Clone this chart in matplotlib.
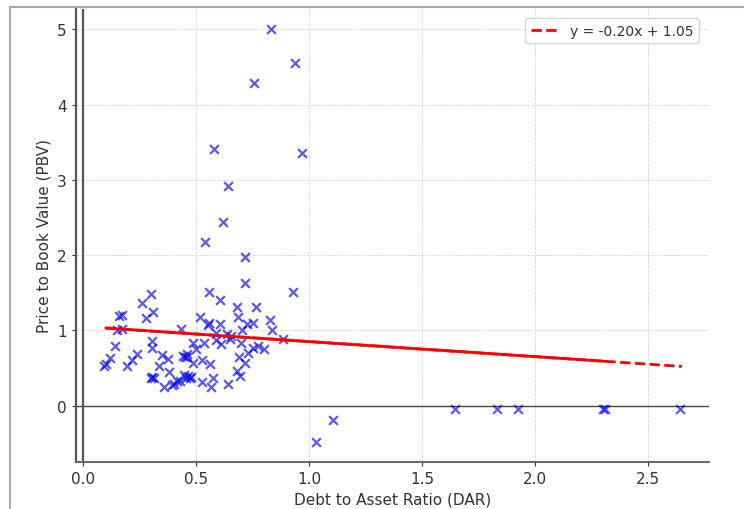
import matplotlib
matplotlib.use("Agg")
import matplotlib.pyplot as plt
import numpy as np
from matplotlib.lines import Line2D

dar = [0.09, 0.10, 0.117, 0.139, 0.150, 0.158, 0.169, 0.170, 0.192, 0.215,
       0.238, 0.258, 0.275, 0.297, 0.306, 0.302, 0.305, 0.297, 0.305, 0.312,
       0.336, 0.346, 0.356, 0.375, 0.378, 0.39, 0.40, 0.415, 0.427, 0.432,
       0.44, 0.45, 0.457, 0.46, 0.447, 0.455, 0.462, 0.471, 0.478, 0.483,
       0.486, 0.50, 0.515, 0.523, 0.523, 0.533, 0.538, 0.552, 0.558, 0.557,
       0.56, 0.564, 0.574, 0.577, 0.586, 0.586, 0.604, 0.604, 0.611, 0.618,
       0.634, 0.64, 0.641, 0.648, 0.655, 0.678, 0.685, 0.678, 0.689, 0.692,
       0.696, 0.703, 0.715, 0.715, 0.715, 0.722, 0.729, 0.749, 0.751, 0.755,
       0.766, 0.773, 0.80, 0.828, 0.833, 0.83, 0.884, 0.928, 0.935, 0.967,
       1.03, 1.104, 1.647, 1.833, 1.923, 2.30, 2.31, 2.643]
pbv = [0.53, 0.55, 0.63, 0.79, 1.01, 1.19, 1.20, 1.02, 0.52, 0.60,
       0.69, 1.36, 1.17, 1.48, 1.24, 0.86, 0.76, 0.36, 0.38, 0.37,
       0.53, 0.67, 0.25, 0.62, 0.44, 0.27, 0.29, 0.32, 0.33, 1.02,
       0.66, 0.65, 0.64, 0.68, 0.40, 0.37, 0.39, 0.36, 0.38, 0.83,
       0.56, 0.75, 1.18, 0.31, 0.60, 0.83, 2.17, 1.07, 1.10, 1.51,
       0.55, 0.25, 0.36, 3.41, 0.96, 0.87, 1.40, 1.09, 0.82, 2.44,
       0.95, 2.92, 0.29, 0.89, 0.92, 1.31, 1.18, 0.46, 0.65, 0.39,
       0.83, 1.01, 0.56, 1.97, 1.63, 1.08, 0.70, 1.10, 0.77, 4.28,
       1.31, 0.79, 0.75, 1.14, 1.00, 5.00, 0.89, 1.51, 4.55, 3.35,
       -0.48, -0.19, -0.05, -0.05, -0.05, -0.05, -0.05, -0.05]

slope = -0.20
intercept = 1.05
fit_label = "y = -0.20x + 1.05"
solid_range = [0.10, 2.31]
dashed_range = [0.10, 2.65]

xticks = [0.0, 0.5, 1.0, 1.5, 2.0, 2.5]
yticks = [0, 1, 2, 3, 4, 5]

fig = plt.figure(figsize=(7.44, 5.10), dpi=100)
ax = fig.add_axes([76/744, 1 - 463/510, (709 - 76)/744, (463 - 10)/510])

ax.grid(True, linestyle='--', linewidth=0.6, color='#d0d0d0', alpha=0.8, zorder=0)
ax.set_axisbelow(True)

ax.axhline(0, color='#444444', linewidth=1.0, zorder=1)
ax.axvline(0, color='#555555', linewidth=1.6, zorder=1)

ax.scatter(dar, pbv, marker='x', color='blue', alpha=0.65, s=40, linewidths=1.6, zorder=3)

xs = np.array(solid_range)
ax.plot(xs, slope * xs + intercept, color='red', linewidth=2, zorder=4)
xd = np.array(dashed_range)
ax.plot(xd, slope * xd + intercept, color='red', linewidth=2, linestyle='--', zorder=4, label=fit_label)

ax.set_xlim(-0.033, 2.77)
ax.set_ylim(-0.75, 5.27)
ax.set_xticks(xticks)
ax.set_yticks(yticks)

for s in ['top', 'right']:
    ax.spines[s].set_visible(False)
ax.spines['left'].set_color('#555555')
ax.spines['left'].set_linewidth(1.6)
ax.spines['bottom'].set_color('#666666')
ax.spines['bottom'].set_linewidth(1.4)

ax.tick_params(labelsize=11, colors='#333333', length=3)
ax.set_xlabel("Debt to Asset Ratio (DAR)", fontsize=11, color='#333333')
ax.set_ylabel("Price to Book Value (PBV)", fontsize=11, color='#333333')

leg = ax.legend(loc='upper right', fontsize=10, frameon=True, bbox_to_anchor=(0.995, 0.995))
leg.get_frame().set_edgecolor('#cccccc')
for t in leg.get_texts():
    t.set_color('#333333')

# screenshot border
fig.add_artist(Line2D([10/744, 1], [1 - 8/510, 1 - 8/510], transform=fig.transFigure, color='#aaaaaa', linewidth=1.5))
fig.add_artist(Line2D([10/744, 10/744], [0, 1 - 8/510], transform=fig.transFigure, color='#aaaaaa', linewidth=1.5))

fig.savefig("out.png", dpi=100)
